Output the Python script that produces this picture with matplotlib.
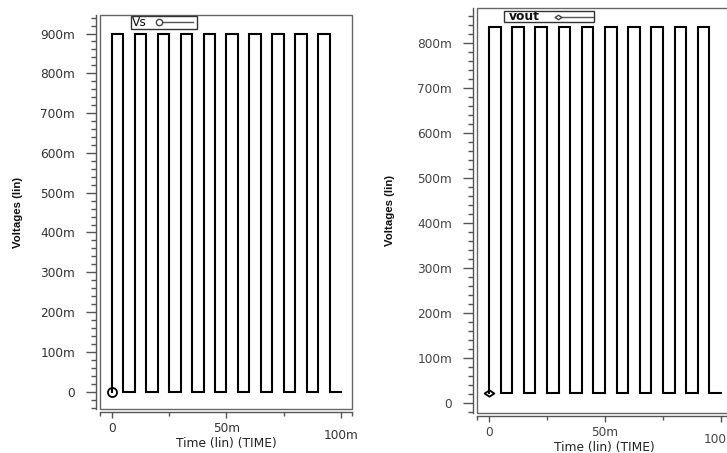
import matplotlib
matplotlib.use("Agg")
import matplotlib.pyplot as plt
from matplotlib.patches import Rectangle
from matplotlib.lines import Line2D
from matplotlib.path import Path
from matplotlib.ticker import FuncFormatter, MultipleLocator, FixedLocator

# edge times of the square waves (seconds)
rise_times = [0.0, 0.010, 0.020, 0.030, 0.040, 0.050, 0.060, 0.070, 0.080, 0.090]
fall_times = [0.005, 0.015, 0.025, 0.035, 0.045, 0.055, 0.065, 0.075, 0.085, 0.095]
end_time = 0.100

# levels (volts)
vs_low, vs_high = 0.0, 0.900
vout_low, vout_high = 0.022, 0.835

x_ticks = [0.0, 0.050, 0.100]
x_minor = [0.025, 0.075]

W, H = 727, 453


def square_wave(low, high):
    t, v = [], []
    for r, f in zip(rise_times, fall_times):
        t += [r, r, f, f]
        v += [low, high, high, low]
    t.append(end_time)
    v.append(low)
    return t, v


def milli(val, pos):
    if abs(val) < 1e-9:
        return "0"
    return f"{val * 1000:.0f}m"


def px_axes(fig, left, top, right, bottom):
    return fig.add_axes([left / W, 1 - bottom / H, (right - left) / W, (bottom - top) / H])


diamond = Path([(-1, 0), (0, 0.65), (1, 0), (0, -0.65), (-1, 0)],
               [Path.MOVETO, Path.LINETO, Path.LINETO, Path.LINETO, Path.CLOSEPOLY])

fig = plt.figure(figsize=(W / 100, H / 100), dpi=100)
fig.patch.set_facecolor("white")


def panel(ax, low, high, ylim, ymax_tick, marker, msize, name, name_bold,
          leg_box, leg_text_x, leg_mark_x, leg_line_end, leg_y, lab_color,
          ylabel_x, xlabel_y):
    t, v = square_wave(low, high)
    ax.plot(t, v, color="black", lw=1.5, solid_joinstyle="miter")
    ax.plot([t[0]], [v[0]], marker=marker, ms=msize, mfc="none", mec="black", mew=1.3,
            clip_on=False)

    ax.set_xlim(-0.0052, 0.1048)
    ax.set_ylim(*ylim)

    # box around the plot area
    ax.add_patch(Rectangle((0, 0), 1, 1, transform=ax.transAxes, fill=False,
                           edgecolor="#666666", lw=1.0, clip_on=False, zorder=5))
    for s in ["top", "right"]:
        ax.spines[s].set_visible(False)
    ax.spines["left"].set_position(("outward", 3))
    ax.spines["bottom"].set_position(("outward", 2.2))
    for s in ["left", "bottom"]:
        ax.spines[s].set_color("#555555")
        ax.spines[s].set_linewidth(1.0)

    ax.yaxis.set_major_locator(FixedLocator([i / 10 for i in range(0, ymax_tick + 1)]))
    ax.yaxis.set_minor_locator(MultipleLocator(0.02))
    ax.xaxis.set_major_locator(FixedLocator(x_ticks))
    ax.xaxis.set_minor_locator(FixedLocator(x_minor + list(ax.get_xlim())))
    ax.yaxis.set_major_formatter(FuncFormatter(milli))
    ax.xaxis.set_major_formatter(FuncFormatter(milli))

    ax.tick_params(axis="y", which="major", length=7, width=1.0, color="#555555",
                   labelsize=8.7, labelcolor=lab_color, pad=8)
    ax.tick_params(axis="y", which="minor", length=3.5, width=1.0, color="#555555")
    ax.tick_params(axis="x", which="major", length=4.5, width=1.0, color="#555555",
                   labelsize=8.7, labelcolor=lab_color, pad=2.5)
    ax.tick_params(axis="x", which="minor", length=3, width=1.0, color="#555555")
    for lab in ax.get_xticklabels() + ax.get_yticklabels():
        lab.set_family("DejaVu Sans")

    ax.xaxis.get_major_ticks()[2].set_pad(8)

    ax.set_xlabel("Time (lin) (TIME)", fontsize=8.8, color="#222222", family="DejaVu Sans")
    ax.xaxis.set_label_coords(0.5, xlabel_y)
    ax.set_ylabel("Voltages (lin)", fontsize=8.2, fontweight="bold", color="#111111",
                  family="Liberation Sans")
    ax.yaxis.set_label_coords(ylabel_x, 0.5)

    # legend box
    x0, x1, y0, y1 = leg_box
    ax.add_patch(Rectangle((x0, y0), x1 - x0, y1 - y0, transform=ax.transAxes,
                           fill=False, edgecolor="#333333", lw=1.0, clip_on=False, zorder=6))
    ax.text(leg_text_x, leg_y, name, transform=ax.transAxes, fontsize=8.8,
            fontweight="bold" if name_bold else "normal", family="DejaVu Sans",
            va="center", ha="left", color="#111111")
    ax.add_line(Line2D([leg_mark_x, leg_line_end], [leg_y, leg_y], transform=ax.transAxes,
                       color="#555555", lw=1.0, clip_on=False))
    ax.add_line(Line2D([leg_mark_x], [leg_y], transform=ax.transAxes, marker=marker,
                       ms=msize * 0.7, mfc="white", mec="#444444", mew=1.0, clip_on=False))


ax1 = px_axes(fig, 100, 15, 352, 409)
panel(ax1, vs_low, vs_high, (-0.0435, 0.9465), 9, "o", 6.5, "Vs", False,
      (0.123, 0.385, 0.9645, 0.9975), 0.128, 0.234, 0.369, 0.981, "#333333",
      -0.305, -0.070)

ax2 = px_axes(fig, 477, 8, 732, 413)
panel(ax2, vout_low, vout_high, (-0.0216, 0.878), 8, diamond, 7, "vout", True,
      (0.106, 0.459, 0.9654, 0.9926), 0.124, 0.318, 0.455, 0.979, "#444444",
      -0.32, -0.068)

fig.savefig("out.png", dpi=100)
